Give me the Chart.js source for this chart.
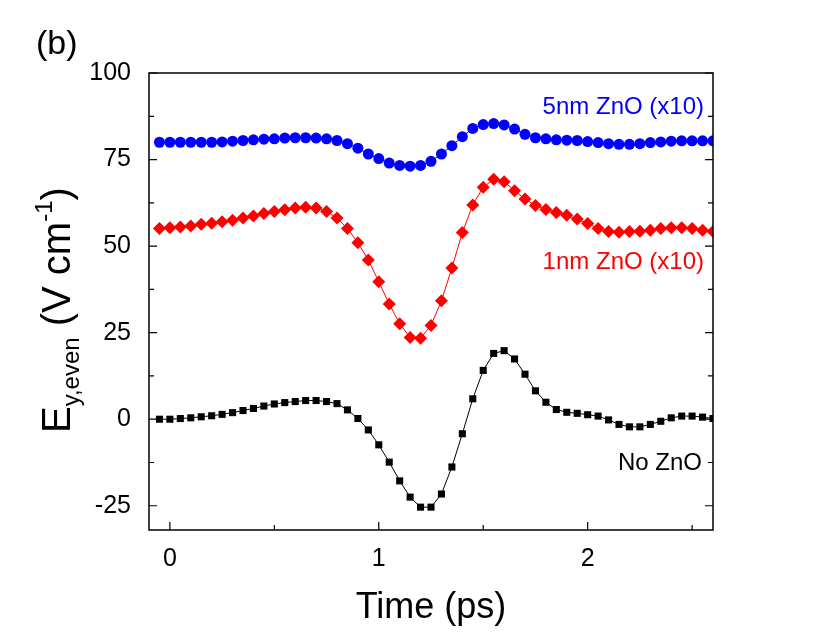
<!DOCTYPE html>
<html>
<head>
<meta charset="utf-8">
<script src="https://cdn.jsdelivr.net/npm/chart.js@4"></script>
<style>
  body { margin: 0; background: #fff; }
  #wrap { width: 830px; height: 636px; }
</style>
</head>
<body>
<div id="wrap"><canvas id="chart" width="830" height="636"></canvas></div>
<script>
// time axis, ps (step 0.05)
const times = [];
for (let i = -1; i <= 52; i++) times.push(+(i * 0.05).toFixed(2));

const noZnO = [0, 0, 0.2, 0.4, 0.7, 1, 1.4, 1.9, 2.5, 3.1, 3.8, 4.4, 4.8, 5.1, 5.4, 5.4, 5.1, 4.5, 2.7, 0.2,
  -3.1, -7.4, -12.4, -17.8, -22.5, -25.4, -25.4, -21.6, -13.8, -4.2, 5.9, 14.1, 19, 19.8, 17.4, 13, 8.2,
  4.9, 2.8, 2, 1.7, 1.3, 0.9, -0.2, -1.5, -2.2, -2.2, -1.5, -0.6, 0.4, 0.9, 0.9, 0.6, 0.2];
const zno1nm = [55.1, 55.3, 55.5, 55.8, 56.3, 56.6, 57, 57.5, 58.1, 58.7, 59.4, 60, 60.5, 61, 61.2, 61, 60,
  58.1, 55.1, 51, 46, 39.7, 33.3, 27.6, 23.6, 23.4, 27.1, 34.2, 43.7, 53.9, 61.9, 67, 69.3, 68.6, 66,
  63.6, 61.7, 60.6, 59.7, 58.9, 57.8, 56.5, 55.1, 54.2, 54, 54.2, 54.3, 54.6, 55.1, 55.3, 55.3, 55.1, 54.6, 54.2];
const zno5nm = [80, 80, 80, 80, 80, 80, 80.1, 80.3, 80.5, 80.7, 80.9, 81, 81.2, 81.3, 81.3, 81.2, 81,
  80.5, 79.6, 78.3, 76.6, 75.3, 74, 73.3, 73.1, 73.3, 74.5, 76.6, 79, 81.6, 84, 85.1, 85.4, 85, 83.8,
  82.3, 81.3, 81, 80.7, 80.6, 80.5, 80.2, 79.9, 79.6, 79.4, 79.4, 79.6, 79.9, 80.1, 80.3, 80.4, 80.4, 80.4, 80.4];

const xTicks = [0, 1, 2];
const yTicks = [-25, 0, 25, 50, 75, 100];

const pts = arr => arr.map((v, i) => ({ x: times[i], y: v }));
const FONT = '"Liberation Sans", Arial, sans-serif';

const frame = {
  id: 'frame',
  afterDraw(chart) {
    const c = chart.ctx, a = chart.chartArea;
    const xs = chart.scales.x, ys = chart.scales.y;
    c.save();
    c.strokeStyle = '#000';
    c.lineWidth = 1.5;
    c.strokeRect(a.left, a.top, a.right - a.left, a.bottom - a.top);
    c.lineWidth = 1.2;
    c.beginPath();
    for (let v = 0; v <= 2.5; v += 0.5) {
      const px = xs.getPixelForValue(v), len = (v % 1 === 0) ? 8 : 5;
      c.moveTo(px, a.bottom); c.lineTo(px, a.bottom - len);
    }
    for (let v = -25; v <= 100; v += 12.5) {
      const py = ys.getPixelForValue(v), len = (v % 25 === 0) ? 8 : 5;
      c.moveTo(a.left, py); c.lineTo(a.left + len, py);
      c.moveTo(a.right, py); c.lineTo(a.right - len, py);
    }
    c.stroke();

    // titles
    c.fillStyle = '#000';
    c.textBaseline = 'alphabetic';
    c.font = '34px ' + FONT;
    c.fillText('(b)', 36, 54);
    c.textAlign = 'center';
    c.font = '36px ' + FONT;
    c.fillText('Time (ps)', (a.left + a.right) / 2, 618);

    // rotated y title with sub/superscripts
    c.save();
    c.translate(70, 433);
    c.rotate(-Math.PI / 2);
    c.textAlign = 'left';
    const parts = [['E', 40, 0], ['y,even', 24, 9], [' (V cm', 40, 0], ['-1', 24, -18], [')', 40, 0]];
    let x0 = 0;
    parts.forEach(p => {
      c.font = p[1] + 'px ' + FONT;
      c.fillText(p[0], x0, p[2]);
      x0 += c.measureText(p[0]).width;
    });
    c.restore();

    // series labels
    c.textAlign = 'right';
    c.font = '24px ' + FONT;
    c.fillStyle = '#0000ff';
    c.fillText('5nm ZnO (x10)', 704, 114);
    c.fillStyle = '#ff0000';
    c.fillText('1nm ZnO (x10)', 704, 269);
    c.fillStyle = '#000';
    c.fillText('No ZnO', 702, 470);
    c.restore();
  }
};

new Chart(document.getElementById('chart'), {
  type: 'line',
  data: {
    datasets: [
      { data: pts(zno5nm), borderColor: '#0000ff', backgroundColor: '#0000ff', borderWidth: 1,
        pointStyle: 'circle', pointRadius: 5.5, pointBorderWidth: 0 },
      { data: pts(zno1nm), borderColor: '#ff0000', backgroundColor: '#ff0000', borderWidth: 1,
        pointStyle: 'rectRot', pointRadius: 6.5, pointBorderWidth: 0 },
      { data: pts(noZnO), borderColor: '#000', backgroundColor: '#000', borderWidth: 1,
        pointStyle: 'rect', pointRadius: 5, pointBorderWidth: 0 }
    ]
  },
  options: {
    responsive: false,
    animation: false,
    layout: { padding: { top: 73, right: 117, left: 0, bottom: 0 } },
    plugins: { legend: { display: false }, tooltip: { enabled: false } },
    scales: {
      x: {
        type: 'linear', min: -0.1, max: 2.6,
        grid: { display: false }, border: { display: false },
        afterBuildTicks: s => { s.ticks = xTicks.map(v => ({ value: v })); },
        afterFit: s => { s.height = 106; },
        ticks: { color: '#000', font: { family: FONT, size: 25 }, padding: 6, maxRotation: 0 }
      },
      y: {
        type: 'linear', min: -32, max: 100,
        grid: { display: false }, border: { display: false },
        afterBuildTicks: s => { s.ticks = yTicks.map(v => ({ value: v })); },
        afterFit: s => { s.width = 149; },
        ticks: { color: '#000', font: { family: FONT, size: 25 }, padding: 10 }
      }
    }
  },
  plugins: [frame]
});
</script>
</body>
</html>
